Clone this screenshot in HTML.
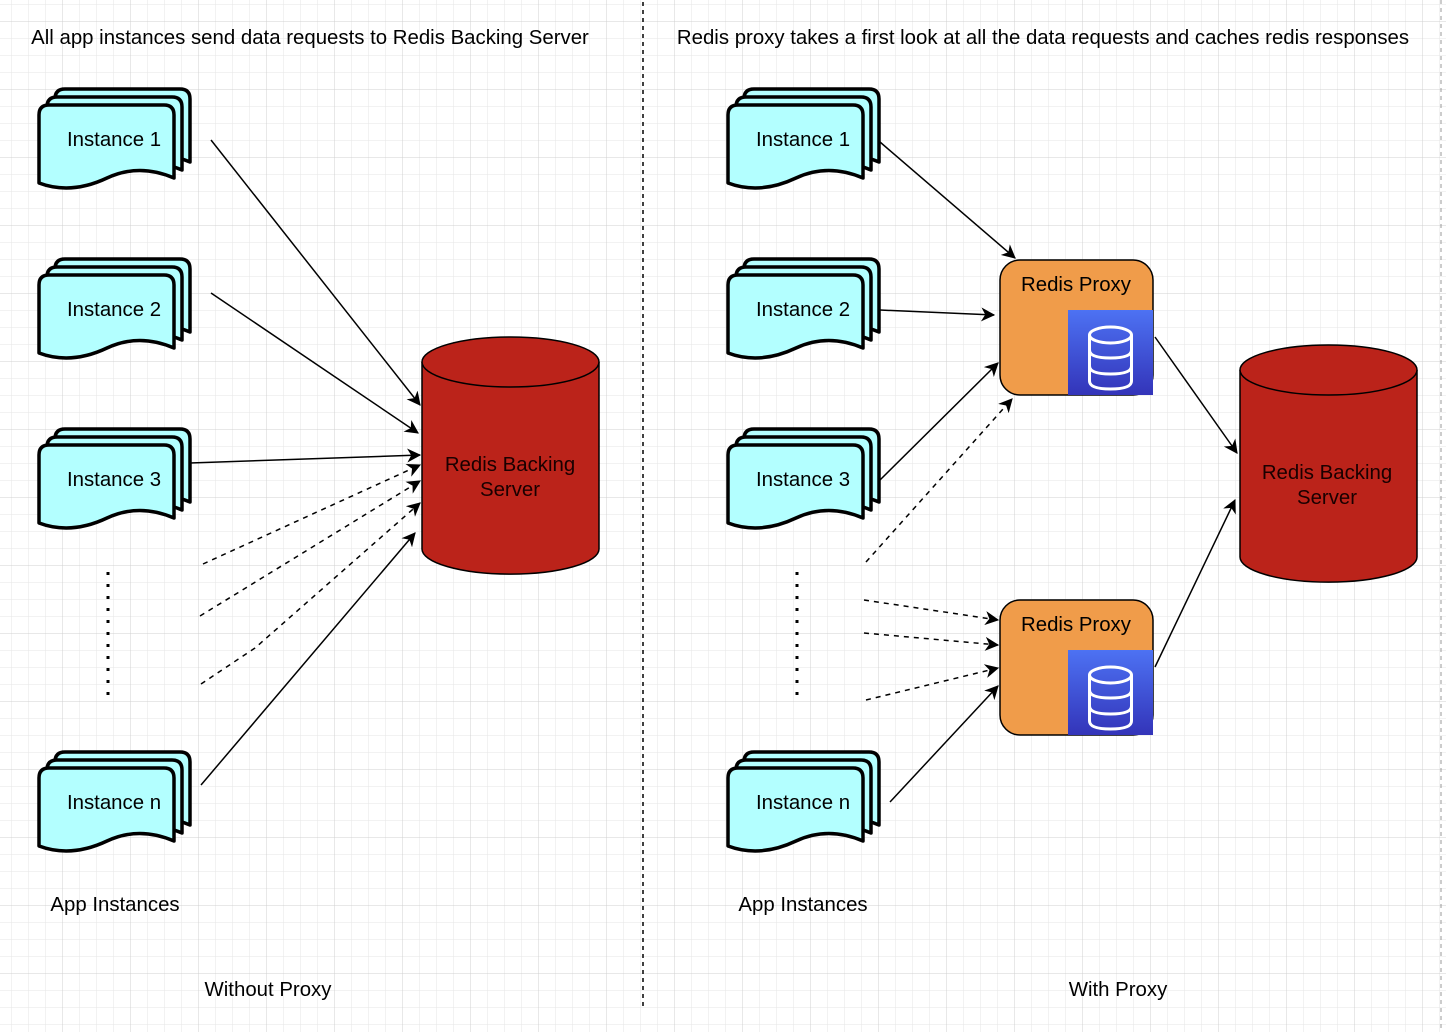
<!DOCTYPE html>
<html><head><meta charset="utf-8"><style>
html,body{margin:0;padding:0;background:#fff}
svg{display:block}
text{font-family:"Liberation Sans",Arial,sans-serif;font-size:20.4px;fill:#000}
</style></head><body>
<svg width="1446" height="1032" viewBox="0 0 1446 1032" xmlns="http://www.w3.org/2000/svg">
<defs>
<pattern id="minor" x="11" y="4" width="17" height="17" patternUnits="userSpaceOnUse">
<path d="M0 0H17M0 0V17" stroke="#e6e6e6" stroke-width="1" fill="none"/></pattern>
<pattern id="major" x="62" y="21" width="68" height="68" patternUnits="userSpaceOnUse">
<path d="M0 0H68M0 0V68" stroke="#d0d0d0" stroke-width="1" fill="none"/></pattern>
<marker id="ah2" viewBox="0 0 12 12" refX="11" refY="6" markerWidth="14" markerHeight="14" orient="auto" markerUnits="userSpaceOnUse">
<path d="M0 0L12 6L0 12L3.5 6Z" fill="#000"/></marker>
<g id="doc">
<path d="M0 10Q0 0 10 0H125Q135 0 135 10V73Q100 58 68 73Q32 90 0 78Z" fill="#b3ffff" stroke="#000" stroke-width="3.5" stroke-linejoin="round"/>
</g>
<g id="inst">
<use href="#doc" x="16" y="-16"/>
<use href="#doc" x="8" y="-8"/>
<use href="#doc" x="0" y="0"/>
</g>
<linearGradient id="bg" x1="0" y1="0" x2="0" y2="1"><stop offset="0" stop-color="#4d72f3"/><stop offset="1" stop-color="#3334b9"/></linearGradient>
<g id="proxy">
<rect x="0" y="0" width="153" height="135" rx="20" fill="#f09c4a" stroke="#000" stroke-width="1.5"/>
<text x="76" y="31" text-anchor="middle">Redis Proxy</text>
<rect x="68" y="50" width="85" height="85" fill="url(#bg)"/>
<g fill="none" stroke="#fff" stroke-width="3">
<ellipse cx="110.5" cy="75" rx="21" ry="8"/>
<path d="M89.5 75V121Q89.5 129 110.5 129Q131.5 129 131.5 121V75"/>
<path d="M89.5 90Q89.5 98 110.5 98Q131.5 98 131.5 90"/>
<path d="M89.5 106Q89.5 114 110.5 114Q131.5 114 131.5 106"/>
</g>
</g>
</defs>
<rect width="1446" height="1032" fill="url(#minor)"/>
<rect width="1446" height="1032" fill="url(#major)"/>

<line x1="643" y1="2" x2="643" y2="1008" stroke="#000" stroke-width="1.5" stroke-dasharray="4 4"/>
<line x1="1441" y1="0" x2="1441" y2="1032" stroke="#999" stroke-width="1" stroke-dasharray="4 4"/>

<text x="310" y="44" text-anchor="middle">All app instances send data requests to Redis Backing Server</text>
<text x="1043" y="44" text-anchor="middle">Redis proxy takes a first look at all the data requests and caches redis responses</text>

<use href="#inst" x="39" y="105"/>
<use href="#inst" x="39" y="275"/>
<use href="#inst" x="39" y="445"/>
<use href="#inst" x="39" y="768"/>
<text x="114" y="146" text-anchor="middle">Instance 1</text>
<text x="114" y="316" text-anchor="middle">Instance 2</text>
<text x="114" y="486" text-anchor="middle">Instance 3</text>
<text x="114" y="809" text-anchor="middle">Instance n</text>
<line x1="108" y1="572" x2="108" y2="700" stroke="#000" stroke-width="3" stroke-dasharray="3 9"/>
<text x="115" y="911" text-anchor="middle">App Instances</text>
<text x="268" y="996" text-anchor="middle">Without Proxy</text>

<use href="#inst" x="728" y="105"/>
<use href="#inst" x="728" y="275"/>
<use href="#inst" x="728" y="445"/>
<use href="#inst" x="728" y="768"/>
<text x="803" y="146" text-anchor="middle">Instance 1</text>
<text x="803" y="316" text-anchor="middle">Instance 2</text>
<text x="803" y="486" text-anchor="middle">Instance 3</text>
<text x="803" y="809" text-anchor="middle">Instance n</text>
<line x1="797" y1="572" x2="797" y2="700" stroke="#000" stroke-width="3" stroke-dasharray="3 9"/>
<text x="803" y="911" text-anchor="middle">App Instances</text>
<text x="1118" y="996" text-anchor="middle">With Proxy</text>

<path d="M422 362V549A88 25 0 0 0 599 549V362" fill="#bb231a" stroke="#000" stroke-width="1.5"/>
<ellipse cx="510.5" cy="362" rx="88.5" ry="25" fill="#bb231a" stroke="#000" stroke-width="1.5"/>
<text x="510" y="471" text-anchor="middle" style="fill:#1a0000">Redis Backing</text>
<text x="510" y="496" text-anchor="middle" style="fill:#1a0000">Server</text>

<path d="M1240 370V557A88 25 0 0 0 1417 557V370" fill="#bb231a" stroke="#000" stroke-width="1.5"/>
<ellipse cx="1328.5" cy="370" rx="88.5" ry="25" fill="#bb231a" stroke="#000" stroke-width="1.5"/>
<text x="1327" y="479" text-anchor="middle" style="fill:#1a0000">Redis Backing</text>
<text x="1327" y="504" text-anchor="middle" style="fill:#1a0000">Server</text>

<use href="#proxy" x="1000" y="260"/>
<use href="#proxy" x="1000" y="600"/>

<g stroke="#000" stroke-width="1.5" fill="none">
<line x1="211" y1="140" x2="420" y2="405" marker-end="url(#ah2)"/>
<line x1="211" y1="293" x2="418" y2="433" marker-end="url(#ah2)"/>
<line x1="190" y1="463" x2="420" y2="455" marker-end="url(#ah2)"/>
<line x1="203" y1="564" x2="420" y2="465" marker-end="url(#ah2)" stroke-dasharray="5 5"/>
<line x1="200" y1="616" x2="420" y2="481" marker-end="url(#ah2)" stroke-dasharray="5 5"/>
<path d="M201 684L255 648L420 503" marker-end="url(#ah2)" stroke-dasharray="5 5"/>
<line x1="201" y1="785" x2="415" y2="533" marker-end="url(#ah2)"/>

<line x1="880" y1="142" x2="1015" y2="258" marker-end="url(#ah2)"/>
<line x1="880" y1="310" x2="994" y2="315" marker-end="url(#ah2)"/>
<line x1="880" y1="480" x2="998" y2="363" marker-end="url(#ah2)"/>
<line x1="866" y1="562" x2="1012" y2="399" marker-end="url(#ah2)" stroke-dasharray="5 5"/>
<line x1="864" y1="600" x2="998" y2="620" marker-end="url(#ah2)" stroke-dasharray="5 5"/>
<line x1="864" y1="633" x2="998" y2="645" marker-end="url(#ah2)" stroke-dasharray="5 5"/>
<line x1="866" y1="700" x2="998" y2="668" marker-end="url(#ah2)" stroke-dasharray="5 5"/>
<line x1="890" y1="802" x2="998" y2="686" marker-end="url(#ah2)"/>
<line x1="1155" y1="337" x2="1237" y2="453" marker-end="url(#ah2)"/>
<line x1="1155" y1="667" x2="1235" y2="500" marker-end="url(#ah2)"/>
</g>
</svg>
</body></html>
